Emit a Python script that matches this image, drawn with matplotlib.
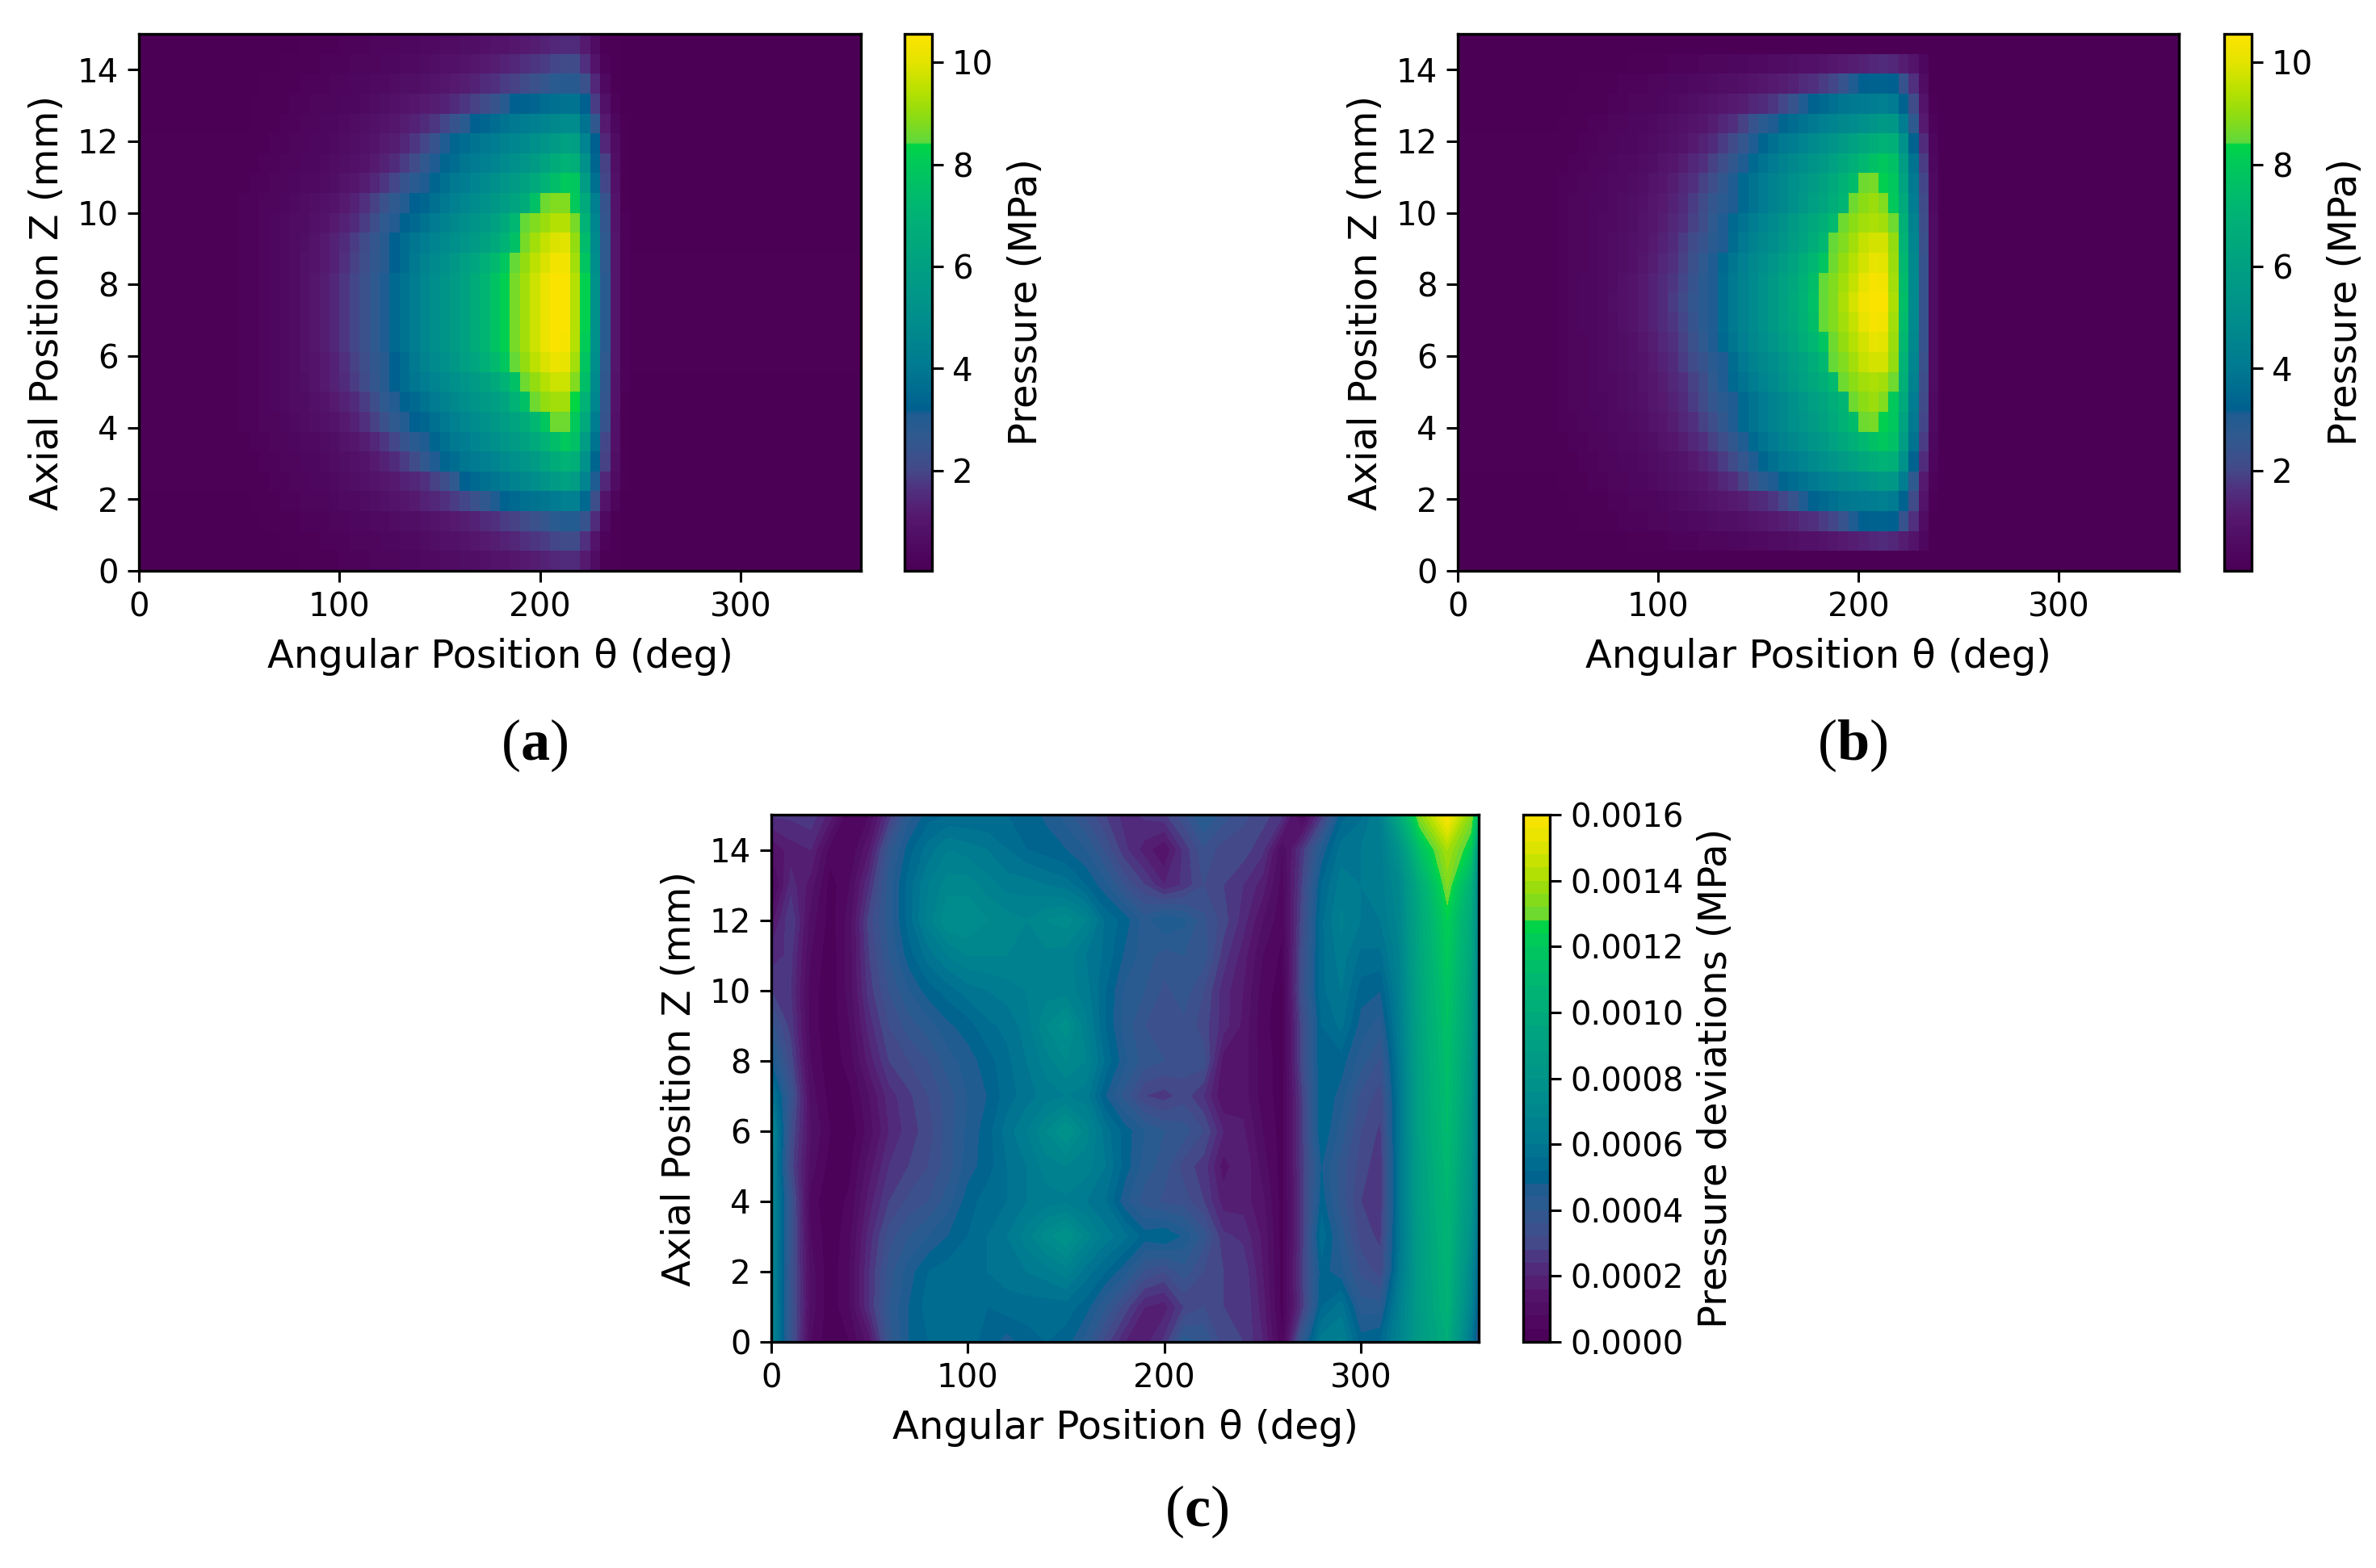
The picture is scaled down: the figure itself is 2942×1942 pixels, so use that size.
import numpy as np
import matplotlib
matplotlib.use('Agg')
import matplotlib.pyplot as plt
from matplotlib.colors import LinearSegmentedColormap

# theta cell edges for the pressure maps: wide empty cells at both ends
theta_edges = np.concatenate([[0], np.arange(50, 250, 5), [360]])
z_edges = np.linspace(15, 0, 28)

# pressure in 0.1 MPa, one list per row from the top (z=15) down
pressure_a = [
    [0, 0,0,0,0,0,0,1,1,1,1,2,2,2,3,3,3,4,4,5,5,6,6,7,7,8,9,9,10,11,12,13,14, 15,15,11,6,1,1,0,0],
    [0, 0,0,0,0,1,1,1,1,2,2,2,3,3,3,4,4,5,5,6,7,8,8,9,10,11,12,13,14,16,17,18,20, 21,21,16,9,2,1,0,0],
    [0, 0,0,1,1,1,1,2,2,2,3,3,4,4,5,5,6,7,7,8,9,10,11,12,13,15,16,18,19,21,23,25,28, 29,29,23,14,5,1,0,0],
    [0, 0,1,1,1,1,2,2,3,3,3,4,4,5,6,7,8,9,10,11,12,13,15,17,19,21,24,29,32,33,34,36,37, 38,38,32,18,8,2,0,0],
    [0, 0,1,1,1,2,2,3,3,4,4,5,6,7,8,9,10,12,13,15,17,20,24,28,32,34,36,38,40,42,43,45,47, 49,49,38,26,11,4,1,0],
    [1, 1,1,1,2,2,3,3,4,4,5,6,7,8,9,11,12,14,17,20,24,31,34,36,38,40,42,44,46,48,51,54,57, 60,59,45,32,14,6,1,0],
    [1, 1,1,2,2,3,3,4,4,5,6,7,8,9,11,13,15,18,21,26,31,34,36,39,41,43,45,48,51,54,57,62,66, 70,68,52,34,19,7,1,0],
    [1, 1,2,2,3,3,4,5,5,6,7,9,10,12,14,17,20,24,28,31,34,37,40,42,45,48,51,54,57,61,65,70,75, 80,79,58,37,20,8,1,0],
    [1, 2,2,3,3,4,5,6,7,8,9,11,13,16,19,23,27,30,32,34,37,40,43,46,49,52,55,58,62,66,76,86,88, 88,80,65,43,24,9,1,0],
    [1, 2,2,3,4,5,6,6,8,9,11,13,15,18,22,27,30,33,35,38,41,44,47,50,53,56,60,65,72,85,88,91,94, 94,87,70,46,25,9,2,0],
    [1, 2,2,3,4,5,6,7,9,11,13,15,18,21,25,29,32,36,39,42,45,48,51,54,57,61,65,70,76,87,92,96,99, 100,90,74,48,27,10,2,0],
    [1, 2,2,3,4,5,6,8,9,11,13,16,19,22,26,29,32,36,40,44,48,51,55,59,63,68,73,79,85,90,95,99,103, 103,92,78,50,27,10,2,1],
    [1, 2,2,3,4,5,6,8,10,12,14,17,20,23,27,31,35,38,42,46,50,53,57,61,66,71,77,82,87,92,97,102,105, 105,94,82,52,28,10,2,1],
    [1, 2,2,3,4,5,6,8,10,12,14,17,20,23,27,31,35,38,42,46,50,53,57,61,66,71,77,82,87,92,97,102,105, 105,94,82,52,28,10,2,1],
    [1, 2,2,3,4,5,6,8,10,12,14,17,20,23,27,31,35,38,42,46,50,53,57,61,66,71,77,82,87,92,97,102,105, 105,94,82,52,28,10,2,1],
    [1, 2,2,3,4,5,6,8,10,12,14,17,20,23,27,31,35,38,42,46,50,53,57,61,66,71,77,82,87,92,97,102,105, 104,94,81,52,28,10,2,1],
    [1, 2,2,3,4,5,6,8,9,11,13,16,19,22,26,29,32,36,40,44,48,51,55,59,63,68,73,79,85,90,95,99,102, 101,92,78,50,27,10,2,1],
    [1, 2,2,3,4,5,6,7,9,11,13,15,18,21,25,29,32,36,39,42,45,48,51,54,57,61,65,70,76,86,90,94,97, 97,88,75,48,26,9,2,0],
    [1, 2,2,3,4,5,6,6,8,9,11,13,15,18,22,27,30,33,35,38,41,44,47,50,53,56,59,63,70,76,86,90,92, 92,84,70,46,25,9,1,0],
    [1, 2,2,3,3,4,5,6,7,8,9,11,13,16,19,23,27,30,32,34,37,40,43,46,49,52,55,58,62,66,72,79,86, 86,80,65,42,24,8,1,0],
    [1, 1,2,2,3,3,4,5,5,6,7,9,10,12,14,17,20,24,28,31,34,37,40,42,45,48,51,54,57,61,65,70,75, 80,76,58,38,20,8,1,0],
    [1, 1,1,2,2,3,3,4,4,5,6,7,8,9,11,13,15,18,21,26,31,34,36,39,41,43,45,48,51,54,57,62,66, 70,68,52,34,19,7,1,0],
    [1, 1,1,1,2,2,3,3,4,4,5,6,7,8,9,10,11,13,14,16,19,22,27,32,35,37,39,41,44,47,50,53,57, 60,58,45,31,14,6,1,0],
    [0, 0,1,1,1,2,2,3,3,3,4,5,5,6,7,8,9,10,11,13,14,16,18,20,23,26,31,33,35,37,38,39,41, 43,43,35,22,9,3,0,0],
    [0, 0,0,1,1,1,1,2,2,2,3,3,4,4,5,5,6,7,7,8,9,10,11,12,13,15,16,18,19,21,23,25,28, 30,30,24,15,5,1,0,0],
    [0, 0,0,0,0,1,1,1,1,2,2,2,3,3,3,4,4,5,5,6,7,8,8,9,10,11,12,13,14,16,17,18,20, 21,21,16,9,2,1,0,0],
    [0, 0,0,0,0,0,0,1,1,1,1,2,2,2,3,3,3,4,4,5,5,6,6,7,7,8,9,9,10,11,12,13,14, 15,15,11,6,1,1,0,0],
]

# panel b is mirrored about its middle row, only the top half is listed
pressure_b_top = [
    [0]*41,
    [0, 0,0,0,0,0,0,0,1,1,1,1,2,2,2,3,3,3,4,4,5,5,6,6,7,8,8,9,10,11,12,13,14, 15,14,12,9,4,0,0,0],
    [0, 0,0,1,1,1,1,2,2,2,3,3,4,4,5,5,6,7,7,8,9,10,11,12,13,15,16,18,20,24,31,32,33, 33,32,24,16,6,0,0,0],
    [0, 0,1,1,1,1,2,2,3,3,3,4,5,6,7,8,9,10,11,12,14,15,17,20,24,31,33,35,37,39,40,41,42, 43,41,33,21,9,1,0,0],
    [0, 1,1,1,2,2,3,3,4,4,5,6,7,8,9,10,12,14,16,19,24,28,31,34,36,38,40,43,45,47,49,51,54, 56,55,42,27,11,2,0,0],
    [1, 1,1,2,2,3,3,4,4,5,6,7,8,9,11,13,15,18,21,25,31,34,37,40,42,45,48,51,54,57,60,64,67, 70,68,52,33,15,3,0,0],
    [1, 1,2,2,3,3,4,5,5,6,7,9,10,12,14,16,19,22,26,31,35,38,41,44,47,50,53,56,60,64,68,72,76, 79,76,58,38,18,4,0,0],
    [1, 2,2,3,3,4,5,5,6,7,9,10,12,14,16,19,22,26,31,35,38,41,44,47,51,54,57,61,65,69,74,86,87, 82,79,62,40,20,5,0,0],
    [1, 2,3,3,4,4,5,6,7,8,10,11,13,15,18,21,25,28,31,35,38,41,44,47,51,55,59,63,67,71,86,89,91, 88,80,65,42,21,5,0,0],
    [1, 2,3,3,4,5,5,6,7,9,10,12,14,16,19,22,27,31,35,38,42,45,48,52,56,60,64,68,73,86,89,92,93, 92,86,68,44,22,6,0,0],
    [1, 2,3,3,4,5,6,7,8,9,11,13,15,18,21,24,28,31,36,40,44,47,50,54,58,62,67,72,85,88,92,96,98, 98,90,70,46,23,6,0,0],
    [1, 2,3,3,4,5,6,7,8,10,12,14,16,19,23,27,31,35,39,43,47,50,54,58,62,67,72,78,86,90,94,98,101, 100,91,72,47,24,6,0,0],
    [1, 2,3,4,4,5,6,8,9,11,13,15,17,20,24,28,31,36,40,44,48,52,56,60,64,69,75,85,88,92,96,101,104, 103,92,74,48,24,6,0,0],
    [1, 2,3,4,4,5,7,8,9,11,13,15,18,21,25,28,31,36,40,44,48,52,56,60,65,70,76,85,88,93,98,103,105, 105,93,75,48,24,6,0,0],
]
pressure_b = pressure_b_top + pressure_b_top[-2::-1]

# deviation map, 1e-5 MPa, each column listed from z=15 down to z=0
theta_c = [0,10,20,30,40,50,60,70,80,90,100,110,120,130,140,150,160,170,180,190,200,
           210,220,230,240,250,260,270,280,290,300,310,320,330,344,356,360]
z_c = [15,14,13,12,11,10,9,8,7,6,5,4,3,2,1,0]
dev_columns = [
    [25,12,5,14,22,28,38,48,60,72,70,70,70,70,70,70],
    [25,18,22,28,25,24,26,30,36,32,30,36,36,35,36,36],
    [27,20,14,10,8,6,6,8,10,12,10,6,8,10,10,8],
    [18,6,2,2,1,1,1,1,2,4,2,1,1,1,1,1],
    [4,4,8,10,10,10,8,6,3,1,3,5,7,8,8,4],
    [8,16,24,30,28,26,22,18,12,10,14,18,22,24,24,14],
    [25,38,42,42,40,36,32,28,22,20,24,28,34,38,40,38],
    [42,50,54,54,50,44,38,32,27,26,28,33,40,46,48,48],
    [50,58,64,66,58,50,42,36,32,30,32,36,44,52,54,52],
    [52,64,70,76,64,54,47,42,38,38,38,42,48,54,56,54],
    [52,62,70,76,68,58,50,46,44,45,46,50,52,54,54,54],
    [52,60,66,72,68,60,55,50,48,50,50,54,56,56,52,50],
    [52,56,62,70,68,62,57,55,54,58,56,56,60,58,54,46],
    [50,52,62,68,68,64,62,60,58,64,60,60,66,60,54,50],
    [47,50,60,72,67,66,72,66,62,72,66,62,74,62,54,52],
    [42,48,58,74,66,66,78,72,64,80,68,63,80,66,54,50],
    [35,44,52,68,60,62,65,68,62,70,66,60,70,58,50,42],
    [28,35,45,55,55,52,52,55,48,58,60,56,62,52,40,30],
    [22,25,35,50,47,43,42,45,38,50,50,45,57,45,30,20],
    [25,18,28,42,42,40,36,38,28,44,42,38,50,35,20,18],
    [27,12,20,48,38,35,34,36,26,40,38,35,52,32,18,25],
    [35,25,25,45,40,38,35,34,30,38,30,34,47,38,28,42],
    [45,35,32,37,38,32,30,34,24,32,26,28,38,32,32,40],
    [38,30,28,30,26,22,22,14,12,20,14,18,25,28,28,30],
    [33,30,24,22,18,16,15,14,14,17,20,18,23,27,28,28],
    [30,25,18,12,8,6,5,6,6,8,10,13,15,16,18,20],
    [25,8,6,5,3,2,2,2,2,2,2,2,2,2,2,4],
    [5,25,28,30,32,33,30,30,27,26,26,25,25,27,25,40],
    [25,45,52,55,55,55,52,52,52,52,48,50,55,50,52,62],
    [50,58,62,65,62,60,57,50,46,42,38,38,42,45,58,65],
    [55,60,60,60,55,50,46,42,35,32,30,28,30,35,42,50],
    [65,62,62,60,55,48,42,35,30,27,25,25,27,30,42,52],
    [100,80,72,70,68,66,64,62,60,60,60,60,60,62,66,68],
    [135,115,100,97,96,95,94,93,92,92,90,90,88,88,87,87],
    [160,140,133,124,121,118,116,114,113,112,110,108,107,106,105,100],
    [134,122,104,98,96,94,92,90,88,86,84,82,78,72,68,60],
    [110,80,70,68,68,66,65,62,60,60,58,58,55,50,45,40],
]

pressure_ticks = [2, 4, 6, 8, 10]
dev_ticks = [0, 0.0002, 0.0004, 0.0006, 0.0008, 0.0010, 0.0012, 0.0014, 0.0016]

# colours, with the two visible jumps
cmap = LinearSegmentedColormap.from_list('chart', [
    (0.00, '#4b0055'), (0.05, '#500a62'), (0.10, '#55186f'), (0.15, '#50307f'),
    (0.19, '#424a8a'), (0.25, '#2f5a8f'), (0.292, '#1f5c91'), (0.30, '#00608f'),
    (0.38, '#007a91'), (0.47, '#008e8c'), (0.57, '#00a082'), (0.67, '#00b474'),
    (0.76, '#00c95a'), (0.795, '#00d544'), (0.797, '#5ed83c'), (0.85, '#90dc10'),
    (0.90, '#bce100'), (0.95, '#e5e300'), (1.00, '#fde300')], N=512)

plt.rcParams['font.family'] = 'DejaVu Sans'
plt.rcParams['mathtext.fontset'] = 'custom'
plt.rcParams['mathtext.rm'] = 'Liberation Serif'
plt.rcParams['mathtext.bf'] = 'Liberation Serif:bold'

W, H = 2942, 1942
TICK_FS = 29
LABEL_FS = 34.6


def px_axes(fig, left, top, right, bottom):
    return fig.add_axes([left / W, 1 - bottom / H, (right - left) / W, (bottom - top) / H])


def style(ax):
    ax.tick_params(length=10, width=2.2, labelsize=TICK_FS, pad=8)
    for s in ax.spines.values():
        s.set_linewidth(2.4)


def dress_map(ax):
    ax.set_xlim(0, 360)
    ax.set_ylim(0, 15)
    ax.set_xticks([0, 100, 200, 300])
    ax.set_yticks(range(0, 15, 2))
    ax.set_xlabel('Angular Position θ (deg)', fontsize=LABEL_FS, labelpad=13)
    ax.set_ylabel('Axial Position Z (mm)', fontsize=LABEL_FS, labelpad=10)
    style(ax)


def pressure_panel(fig, data, rect, cb_rect):
    ax = px_axes(fig, *rect)
    mesh = ax.pcolormesh(theta_edges, z_edges, np.array(data) / 10, cmap=cmap, vmin=0.03, vmax=10.56)
    dress_map(ax)
    cax = px_axes(fig, *cb_rect)
    cb = fig.colorbar(mesh, cax=cax, ticks=pressure_ticks)
    cb.set_label('Pressure (MPa)', fontsize=LABEL_FS, labelpad=12)
    style(cax)
    cb.outline.set_linewidth(2.4)


fig = plt.figure(figsize=(W / 100, H / 100), dpi=100)

pressure_panel(fig, pressure_a, (172, 42, 1066, 707), (1120, 42, 1154, 707))
pressure_panel(fig, pressure_b, (1805, 42, 2698, 707), (2754, 42, 2788, 707))

ax_c = px_axes(fig, 955, 1009, 1831, 1662)
dev = np.array(dev_columns).T * 1e-5
cs = ax_c.contourf(theta_c, z_c, dev, levels=np.linspace(0, 0.0016, 41), cmap=cmap)
dress_map(ax_c)
cax_c = px_axes(fig, 1886, 1009, 1919, 1662)
cb_c = fig.colorbar(cs, cax=cax_c, ticks=dev_ticks, format='%.4f')
cb_c.set_label('Pressure deviations (MPa)', fontsize=LABEL_FS, labelpad=12)
style(cax_c)
cb_c.outline.set_linewidth(2.4)

for name, cx, cy in [('a', 662, 923), ('b', 2294, 923), ('c', 1482, 1872)]:
    fig.text(cx / W, 1 - cy / H, '($\\mathbf{%s}$)' % name, fontsize=52,
             family='Liberation Serif', ha='center', va='center')

fig.savefig('out.png', dpi=100)
